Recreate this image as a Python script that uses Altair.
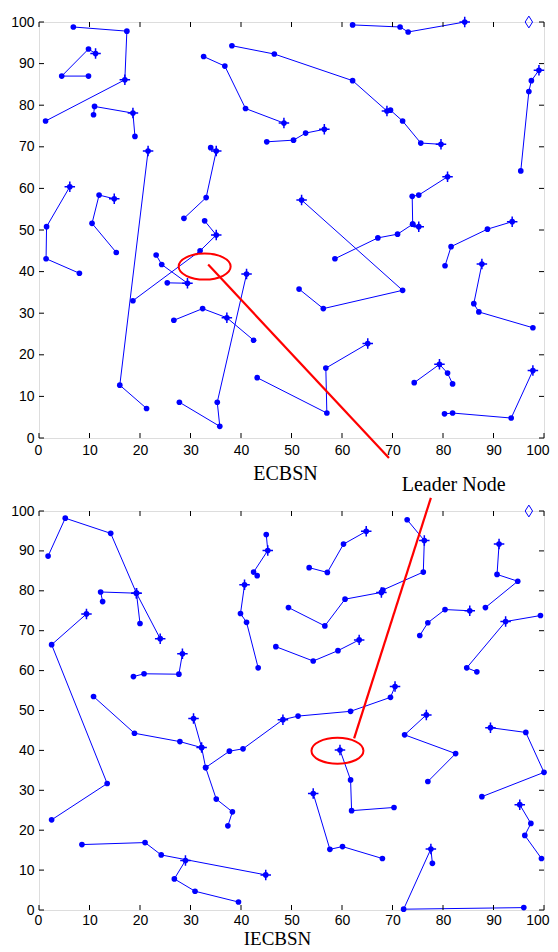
import altair as alt
import pandas as pd

BLUE = "#0000FF"
TICKS = list(range(0, 101, 10))

# ---------------- top panel (ECBSN) ----------------
top_chain = ([1] * 4 + [2] * 4 + [3] * 4 + [4] * 3 + [5] * 4 + [6] * 4 + [7] * 4 + [8] * 4
             + [9] * 4 + [10] * 4 + [11] * 4 + [12] * 4 + [13] * 4 + [14] * 5 + [24] * 4
             + [15] * 4 + [16] * 4 + [17] * 4 + [18] * 4 + [19] * 4 + [20] * 8 + [21] * 4
             + [22] * 4 + [23] * 4)
top_x = [6.8, 17.4, 17.0, 1.3,
         11.2, 9.8, 4.5, 9.8,
         10.8, 11.0, 18.6, 19.0,
         21.6, 16.0, 21.3,
         6.1, 1.5, 1.4, 8.0,
         14.9, 11.9, 10.5, 15.3,
         28.7, 33.1, 35.1, 34.0,
         32.8, 35.1, 31.9, 18.6,
         23.2, 24.3, 29.4, 25.4,
         41.1, 35.3, 35.8, 27.8,
         26.7, 32.4, 37.2, 42.5,
         43.2, 57.0, 56.8, 65.1,
         52.0, 72.0, 56.3, 51.5,
         58.6, 67.1, 71.0, 74.0, 75.2,
         74.0, 73.9, 75.2, 80.9,
         80.4, 81.6, 88.8, 93.7,
         87.7, 86.1, 87.1, 97.8,
         74.3, 79.3, 80.9, 81.9,
         80.3, 81.9, 93.5, 97.8,
         62.1, 71.5, 73.1, 84.3,
         38.2, 46.6, 62.1, 68.9, 69.6, 72.0, 75.6, 79.6,
         32.6, 36.8, 40.9, 48.5,
         45.1, 50.4, 52.8, 56.5,
         95.4, 97.0, 97.5, 99.0]
top_y = [98.8, 97.8, 86.1, 76.2,
         92.4, 93.5, 87.0, 87.0,
         77.7, 79.7, 78.1, 72.5,
         69.0, 12.7, 7.1,
         60.4, 50.8, 43.1, 39.6,
         57.5, 58.4, 51.6, 44.6,
         52.8, 57.8, 69.0, 69.8,
         52.2, 48.8, 45.0, 33.0,
         44.0, 41.7, 37.2, 37.3,
         39.4, 8.6, 2.8, 8.6,
         28.3, 31.1, 28.9, 23.5,
         14.5, 6.0, 16.8, 22.7,
         57.2, 35.5, 31.1, 35.8,
         43.1, 48.1, 49.0, 51.4, 50.8,
         51.4, 58.1, 58.4, 62.8,
         41.4, 46.0, 50.2, 52.0,
         41.8, 32.3, 30.3, 26.5,
         13.3, 17.7, 15.6, 13.0,
         5.8, 6.0, 4.8, 16.2,
         99.3, 98.8, 97.6, 100.0,
         94.3, 92.3, 85.9, 78.6, 78.8, 76.2, 70.9, 70.6,
         91.7, 89.4, 79.2, 75.7,
         71.2, 71.6, 73.3, 74.2,
         64.2, 83.3, 85.9, 88.4]
top_head = [0, 0, 1, 0,
            1, 0, 0, 0,
            0, 0, 1, 0,
            1, 0, 0,
            1, 0, 0, 0,
            1, 0, 0, 0,
            0, 0, 1, 0,
            0, 1, 0, 0,
            0, 0, 1, 0,
            1, 0, 0, 0,
            0, 0, 1, 0,
            0, 0, 0, 1,
            1, 0, 0, 0,
            0, 0, 0, 0, 1,
            0, 0, 0, 1,
            0, 0, 0, 1,
            1, 0, 0, 0,
            0, 1, 0, 0,
            0, 0, 0, 1,
            0, 0, 0, 1,
            0, 0, 0, 1, 0, 0, 0, 1,
            0, 0, 0, 1,
            0, 0, 0, 1,
            0, 0, 0, 1]

# ---------------- bottom panel (IECBSN) ----------------
bot_chain = ([1] * 5 + [2] * 4 + [3] * 4 + [4] * 4 + [5] * 8 + [6] * 2 + [7] * 8 + [8] * 4
             + [9] * 4 + [10] * 4 + [11] * 4 + [12] * 8 + [13] * 4 + [14] * 4 + [15] * 4
             + [16] * 4 + [17] * 4 + [18] * 4 + [19] * 4 + [20] * 4 + [21] * 4 + [22] * 4
             + [23] * 4)
bot_x = [1.8, 5.2, 14.2, 19.3, 24.0,
         12.6, 12.2, 19.3, 20.0,
         9.4, 2.5, 13.5, 2.5,
         18.7, 20.8, 27.7, 28.4,
         10.8, 18.9, 27.9, 32.2, 33.0, 35.1, 38.3, 37.4,
         30.6, 32.2,
         33.0, 37.7, 40.4, 48.3, 51.3, 61.7, 69.6, 70.5,
         8.5, 21.0, 24.2, 44.9,
         29.0, 26.8, 30.9, 39.5,
         45.0, 45.3, 42.5, 43.2,
         40.7, 39.9, 41.1, 43.4,
         49.4, 56.6, 60.6, 67.8, 68.1, 76.1, 76.3, 72.9,
         53.5, 57.1, 60.3, 64.8,
         46.9, 54.3, 59.2, 63.4,
         75.4, 77.0, 80.4, 85.3,
         91.1, 90.7, 94.8, 88.4,
         99.3, 92.4, 84.7, 86.7,
         59.6, 61.7, 61.9, 70.3,
         54.3, 57.6, 60.1, 68.0,
         76.7, 72.4, 82.5, 77.0,
         89.4, 96.4, 100.0, 87.7,
         95.2, 97.4, 96.2, 99.5,
         77.9, 77.6, 72.2, 96.0]
bot_y = [88.7, 98.2, 94.4, 79.4, 68.0,
         77.3, 79.7, 79.4, 71.8,
         74.2, 66.5, 31.7, 22.6,
         58.5, 59.2, 59.1, 64.2,
         53.5, 44.3, 42.2, 40.7, 35.7, 27.8, 24.6, 21.1,
         48.0, 40.7,
         35.7, 39.8, 40.4, 47.7, 48.6, 49.8, 53.3, 56.0,
         16.4, 16.9, 13.8, 8.8,
         12.4, 7.8, 4.7, 2.0,
         94.1, 90.1, 84.7, 83.8,
         81.5, 74.3, 72.1, 60.7,
         75.8, 71.2, 77.9, 79.6, 80.2, 84.7, 92.6, 97.8,
         85.8, 84.6, 91.7, 94.9,
         66.0, 62.4, 65.0, 67.7,
         68.8, 72.0, 75.3, 75.0,
         91.7, 84.1, 82.4, 75.8,
         73.8, 72.3, 60.7, 59.7,
         40.1, 32.6, 24.9, 25.7,
         29.2, 15.2, 15.9, 12.9,
         48.9, 43.9, 39.2, 32.2,
         45.7, 44.5, 34.5, 28.4,
         26.4, 21.7, 18.7, 12.9,
         11.7, 15.3, 0.2, 0.6]
bot_head = [0, 0, 0, 1, 1,
            0, 0, 1, 0,
            1, 0, 0, 0,
            0, 0, 0, 1,
            0, 0, 0, 1, 0, 0, 0, 0,
            1, 0,
            0, 0, 0, 1, 0, 0, 0, 1,
            0, 0, 0, 1,
            1, 0, 0, 0,
            0, 1, 0, 0,
            1, 0, 0, 0,
            0, 0, 0, 1, 0, 0, 1, 0,
            0, 0, 0, 1,
            0, 0, 0, 1,
            0, 0, 0, 1,
            1, 0, 0, 0,
            0, 1, 0, 0,
            1, 0, 0, 0,
            1, 0, 0, 0,
            1, 0, 0, 0,
            1, 0, 0, 0,
            1, 0, 0, 0,
            0, 1, 0, 0]

# sink (base station) position
sink_x = [97.0]
sink_y = [100.0]

# leader-node highlights: ellipse centre and pointer line (start -> end)
top_ell = [32.8, 41.2]
top_ptr = [33.5, 41.7, 69.3, -4.8]
bot_ell = [59.1, 39.9]
bot_ptr = [62.4, 43.0, 77.6, 103.3]
leader_label = ["Leader Node"]
leader_pos = [82.1, -12.7]

W = 505
PLUS = "M-1,0L1,0M0,-1L0,1"
DIAMOND = "M0,-1L0.625,0L0,1L-0.625,0Z"
ELLIPSE = "M-1,0A1,0.5,0,1,1,1,0A1,0.5,0,1,1,-1,0Z"
TL = 5


def panel(chain, xs, ys, heads, ell, ptr, title, title_x, title_y, title_size, label_pad,
          H, label=False):
    df = pd.DataFrame({"chain": chain, "x": xs, "y": ys, "head": heads,
                       "seq": list(range(len(xs)))})
    xsc = alt.Scale(domain=[0, 100], nice=False, zero=False)
    ysc = alt.Scale(domain=[0, 100], nice=False, zero=False)
    xaxis = alt.Axis(values=TICKS, ticks=False, tickSize=0, domain=False, grid=False,
                     labelFlush=True, labelFlushOffset=5, labelOverlap=False,
                     labelPadding=label_pad,
                     labelFont="Liberation Sans", labelFontSize=14, labelColor="black",
                     title=title, titleFont="Liberation Serif", titleFontSize=title_size,
                     titleFontWeight="normal", titleColor="black",
                     titleBaseline="alphabetic", titleX=title_x, titleY=title_y)
    yaxis = alt.Axis(values=TICKS, ticks=False, tickSize=0, domain=False, grid=False,
                     labelFlush=False, labelOverlap=False, labelPadding=5,
                     labelFont="Liberation Sans", labelFontSize=14, labelColor="black",
                     title=None)
    X = alt.X("x:Q", scale=xsc, axis=xaxis)
    Y = alt.Y("y:Q", scale=ysc, axis=yaxis)

    base = alt.Chart(df)
    lines = base.mark_line(color=BLUE, strokeWidth=1).encode(
        x=X, y=Y, detail="chain:N", order="seq:Q")
    dots = base.mark_circle(color=BLUE, size=32, opacity=1).encode(x=X, y=Y)
    stars = base.transform_filter("datum.head == 1").mark_point(
        shape=PLUS, size=110, color=BLUE, strokeWidth=1.5, filled=False, opacity=1
    ).encode(x=X, y=Y)

    sink = alt.Chart(pd.DataFrame({"x": sink_x, "y": sink_y})).mark_point(
        shape=DIAMOND, size=140, color=BLUE, filled=False, strokeWidth=1, opacity=1
    ).encode(x=X, y=Y)

    tdf = pd.DataFrame({"x": TICKS, "y": TICKS})
    tb = alt.Chart(tdf)
    t_top = tb.mark_rule(color="black", strokeWidth=1).encode(x=X, y=alt.value(0), y2=alt.value(TL))
    t_bot = tb.mark_rule(color="black", strokeWidth=1).encode(x=X, y=alt.value(H), y2=alt.value(H - TL))
    t_lft = tb.mark_rule(color="black", strokeWidth=1).encode(y=Y, x=alt.value(0), x2=alt.value(TL))
    t_rgt = tb.mark_rule(color="black", strokeWidth=1).encode(y=Y, x=alt.value(W), x2=alt.value(W - TL))

    ell_l = alt.Chart(pd.DataFrame({"x": [ell[0]], "y": [ell[1]]})).mark_point(
        shape=ELLIPSE, size=2704, color="red", filled=False, strokeWidth=2, opacity=1
    ).encode(x=X, y=Y)
    ptr_l = alt.Chart(pd.DataFrame({"x": [ptr[0]], "y": [ptr[1]],
                                    "x2": [ptr[2]], "y2": [ptr[3]]})).mark_rule(
        color="red", strokeWidth=2.2
    ).encode(x=X, y=Y, x2="x2:Q", y2="y2:Q")

    layers = [lines, dots, stars, sink, t_top, t_bot, t_lft, t_rgt, ell_l, ptr_l]
    if label:
        txt = alt.Chart(pd.DataFrame({"x": [leader_pos[0]], "y": [leader_pos[1]],
                                      "t": leader_label})).mark_text(
            font="Liberation Serif", fontSize=20, align="center",
            baseline="alphabetic", color="black"
        ).encode(x=X, y=Y, text="t:N")
        layers.append(txt)
    return alt.layer(*layers).properties(width=W, height=H)


top = panel(top_chain, top_x, top_y, top_head, top_ell, top_ptr,
            "ECBSN", 246, 41, 20, 5, 416, label=True)
bot = panel(bot_chain, bot_x, bot_y, bot_head, bot_ell, bot_ptr,
            "IECBSN", 238, 34, 19, 3, 399)

chart = alt.vconcat(top, bot, spacing=73, bounds="flush").properties(
    padding={"left": 2, "top": 5, "right": 0, "bottom": -2}
).configure_view(stroke="black", strokeWidth=1.5).configure(background="white")

chart.save("out.html", embed_options={"renderer": "svg", "actions": False})
